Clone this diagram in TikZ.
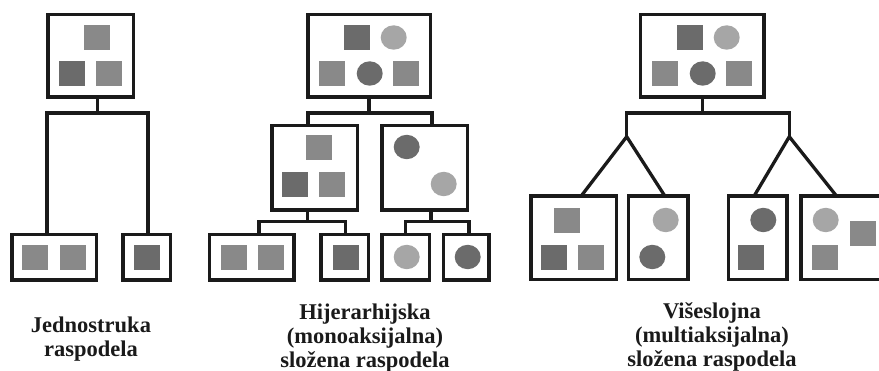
\documentclass[tikz,border=0pt]{standalone}
\usepackage{fontspec}
\setmainfont{Liberation Serif}
\usetikzlibrary{calc}
\definecolor{dk}{HTML}{6B6B6B}
\definecolor{md}{HTML}{898989}
\definecolor{lt}{HTML}{A6A6A6}
\definecolor{ln}{HTML}{1A1A1A}
\tikzset{
  box/.style={draw=ln, line width=3.5pt, rectangle, inner sep=0pt, outer sep=0pt, fill=white},
  conn/.style={draw=ln, line width=3.3pt},
  lbl/.style={align=center, inner sep=0pt, font=\fontsize{22.5pt}{24pt}\selectfont\bfseries, text=ln},
}
\newcommand\sqd[2]{\fill[#1] (#2) rectangle ++(26,25);}
\newcommand\crc[2]{\fill[#1] (#2) ellipse [x radius=13, y radius=12.2];}
\begin{document}
\begin{tikzpicture}[x=1pt,y=-1pt]
\useasboundingbox (0,0) rectangle (879,371);
\fill[white] (0,0) rectangle (879,371);
\begin{scope}
\clip (0,0) rectangle (879,371);
% ---------- left diagram ----------
\node[box, minimum width=85.5pt, minimum height=82.5pt] (LT) at (90.5,56) {};
\node[box, minimum width=84.5pt, minimum height=45.5pt] (LB1) at (54,257.5) {};
\node[box, minimum width=47.5pt, minimum height=45.5pt] (LB2) at (146.5,257.5) {};
% ---------- middle diagram ----------
\node[box, minimum width=122.5pt, minimum height=82.5pt] (MT) at (369,56) {};
\node[box, minimum width=85.5pt, minimum height=84.5pt] (MM1) at (314.5,168) {};
\node[box, minimum width=85.5pt, minimum height=84.5pt] (MM2) at (424.5,168) {};
\node[box, minimum width=84.5pt, minimum height=45.5pt] (MB1) at (251.7,257.5) {};
\node[box, minimum width=47.5pt, minimum height=45.5pt] (MB2) at (344.5,257.5) {};
\node[box, minimum width=47.5pt, minimum height=45.5pt] (MB3) at (405.7,257.5) {};
\node[box, minimum width=45.5pt, minimum height=45.5pt] (MB4) at (466.3,257.5) {};
% ---------- right diagram ----------
\node[box, minimum width=123.5pt, minimum height=82.5pt] (RT) at (702.2,56) {};
\node[box, minimum width=85.5pt, minimum height=83.5pt] (R1) at (573.8,238) {};
\node[box, minimum width=59.5pt, minimum height=83.5pt] (R2) at (658.3,238) {};
\node[box, minimum width=58.5pt, minimum height=83.5pt] (R3) at (757.8,238) {};
\node[box, minimum width=88pt, minimum height=83.5pt] (R4) at (845,238) {};
% ---------- connectors ----------
\coordinate (Lh) at (97.7,113);
\draw[conn] (LT.south -| Lh) -- (Lh);
\draw[conn] ($(LB1.north)+(-7,0)$) |- (Lh) -| ($(LB2.north)+(1.5,0)$);
\coordinate (Mh) at (369,113);
\draw[conn] (MT.south -| Mh) -- (Mh);
\draw[conn] ($(MM1.north)+(-6.5,0)$) |- (Mh) -| ($(MM2.north)+(7.5,0)$);
\coordinate (Mh1) at (307.3,221.3);
\draw[conn] (MM1.south -| Mh1) -- (Mh1);
\draw[conn] ($(MB1.north)+(7.3,0)$) |- (Mh1) -| ($(MB2.north)+(1,0)$);
\coordinate (Mh2) at (431,221.3);
\draw[conn] (MM2.south -| Mh2) -- (Mh2);
\draw[conn] (MB3.north) |- (Mh2) -| ($(MB4.north)+(2.7,0)$);
\coordinate (Rh) at (702.7,113);
\coordinate (Ra) at (626.7,136.7);
\coordinate (Rb) at (789.3,136.7);
\draw[conn] (RT.south -| Rh) -- (Rh);
\draw[conn] (Ra) |- (Rh) -| (Rb);
\draw[conn] ($(R1.north)+(7.2,0)$) -- (Ra) -- ($(R2.north)+(6.7,0)$);
\draw[conn] ($(R3.north)+(-3.8,0)$) -- (Rb) -- ($(R4.north)+(-8.3,0)$);
% ---------- contents ----------
\sqd{md}{84,25} \sqd{dk}{59,61} \sqd{md}{96,61}
\sqd{md}{22,245} \sqd{md}{60,245}
\sqd{dk}{134,245}
\sqd{dk}{344,25} \crc{lt}{393.7,37.5} \sqd{md}{319,61} \crc{dk}{369.7,73.5} \sqd{md}{393,61}
\sqd{md}{306,135} \sqd{dk}{282,172} \sqd{md}{319,172}
\crc{dk}{406.7,147} \crc{lt}{443.7,184}
\sqd{md}{220.7,245} \sqd{md}{258,245}
\sqd{dk}{333,245}
\crc{lt}{406.7,257}
\crc{dk}{467.7,257}
\sqd{dk}{676.7,25} \crc{lt}{726.7,37.5} \sqd{md}{652,61} \crc{dk}{702.7,73.5} \sqd{md}{726,61}
\sqd{md}{554,207.7} \sqd{dk}{541,245} \sqd{md}{578,245}
\crc{lt}{665.7,220} \crc{dk}{652.3,257}
\crc{dk}{763.3,220} \sqd{dk}{738.3,245}
\crc{lt}{825.7,220} \sqd{md}{850,221} \sqd{md}{812.3,245}
% ---------- labels ----------
\node[lbl, anchor=base] (t1) at (91,357) {Jednostruka\\raspodela};
\node[lbl, anchor=base] (t2) at (365,367.5) {Hijerarhijska\\(monoaksijalna)\\složena raspodela};
\node[lbl, anchor=base] (t3) at (712,367) {Višeslojna\\(multiaksijalna)\\složena raspodela};
\end{scope}
\end{tikzpicture}
\end{document}
